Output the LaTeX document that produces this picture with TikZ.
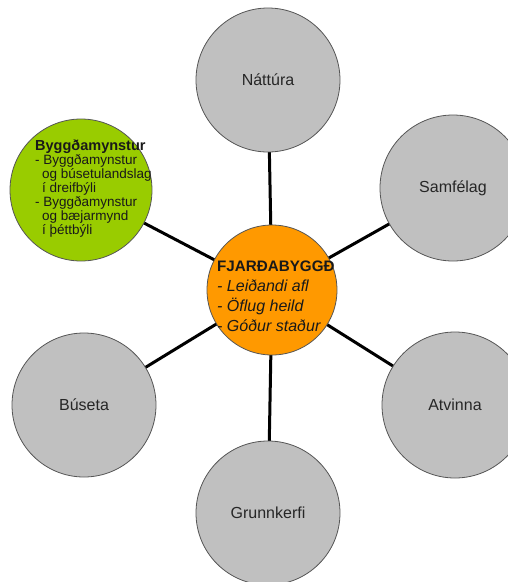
\documentclass[tikz,border=0pt]{standalone}
\usepackage{fontspec}
\setmainfont{Liberation Sans}
\usetikzlibrary{backgrounds}
\definecolor{bubblegray}{RGB}{192,192,192}
\definecolor{bubblegreen}{RGB}{153,204,0}
\definecolor{bubbleorange}{RGB}{255,153,0}
\definecolor{rimgray}{RGB}{85,85,85}
\begin{document}
\begin{tikzpicture}[x=1pt,y=-1pt,
  bubble/.style={circle, draw=rimgray, line width=0.8pt, inner sep=0pt,
    minimum size=144pt, fill=bubblegray, text=black!85,
    font=\fontsize{16}{19}\selectfont},
  link/.style={line width=3pt, black},
  bubbletext/.style={anchor=west, align=left, inner sep=0pt, text=black!90}]
\useasboundingbox (0,0) rectangle (508,582);

\node[bubble] (nat) at (268,80) {Náttúra};
\node[bubble, minimum size=146pt] (sam) at (453,188) {Samfélag};
\node[bubble, minimum size=146pt] (atv) at (455,405) {Atvinna};
\node[bubble] (gru) at (268,513) {Grunnkerfi};
\node[bubble, minimum size=144pt] (bus) at (84,405) {Búseta};
\node[bubble, fill=bubblegreen, minimum size=142pt] (byg) at (81,190) {};
\node[bubble, fill=bubbleorange, minimum size=130pt] (fja) at (272,290) {};

\node[bubbletext, font=\fontsize{13.5}{14}\selectfont] (bygtext) at (35,189)
  {\textbf{\fontsize{14.5}{16}\selectfont Byggðamynstur}\\
   - Byggðamynstur\\
   \hspace*{7pt}og búsetulandslag\\
   \hspace*{7pt}í dreifbýli\\
   - Byggðamynstur\\
   \hspace*{7pt}og bæjarmynd\\
   \hspace*{7pt}í þéttbýli};

\node[bubbletext, font=\fontsize{16}{20}\selectfont] (fjatext) at (217,296)
  {\textbf{\fontsize{15.2}{20}\selectfont FJARÐABYGGÐ}\\
   \textit{- Leiðandi afl}\\
   \textit{- Öflug heild}\\
   \textit{- Góður staður}};

\begin{pgfonlayer}{background}
  \draw[link] (fja.center) -- (nat.center);
  \draw[link] (fja.center) -- (sam.center);
  \draw[link] (fja.center) -- (atv.center);
  \draw[link] (fja.center) -- (gru.center);
  \draw[link] (fja.center) -- (bus.center);
  \draw[link] (fja.center) -- (byg.center);
\end{pgfonlayer}
\end{tikzpicture}
\end{document}
